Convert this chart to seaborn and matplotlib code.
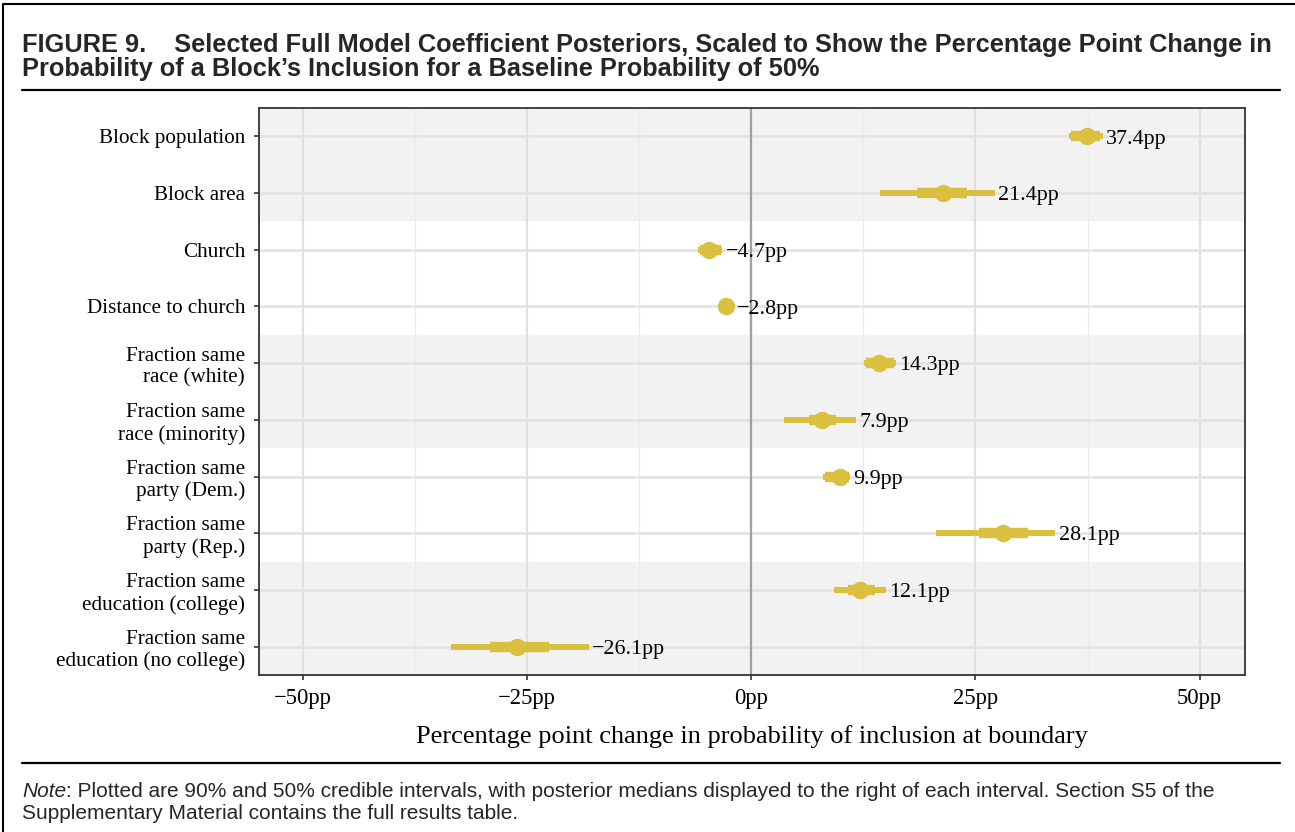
import matplotlib
matplotlib.use("Agg")
import matplotlib.pyplot as plt
import seaborn as sns
import pandas as pd
import numpy as np
from matplotlib.lines import Line2D

labels = [
    "Block population",
    "Block area",
    "Church",
    "Distance to church",
    "Fraction same\nrace (white)",
    "Fraction same\nrace (minority)",
    "Fraction same\nparty (Dem.)",
    "Fraction same\nparty (Rep.)",
    "Fraction same\neducation (college)",
    "Fraction same\neducation (no college)",
]
median = [37.4, 21.4, -4.7, -2.8, 14.3, 7.9, 9.9, 28.1, 12.1, -26.1]
lo90 = [35.4, 14.4, -5.9, -3.5, 12.6, 3.7, 8.0, 20.6, 9.2, -33.4]
hi90 = [39.2, 27.2, -3.2, -2.0, 16.1, 11.7, 11.0, 33.9, 15.0, -18.1]
lo50 = [35.7, 18.5, -5.7, -3.3, 12.8, 6.5, 8.2, 25.4, 10.8, -29.1]
hi50 = [38.9, 24.1, -3.4, -2.3, 15.9, 9.5, 10.9, 30.9, 13.8, -22.5]
xticks = [-50, -25, 0, 25, 50]
xticklabels = ["\u221250pp", "\u221225pp", "0pp", "25pp", "50pp"]

df = pd.DataFrame({"label": labels, "median": median, "lo90": lo90,
                   "hi90": hi90, "lo50": lo50, "hi50": hi50})

sns.set_theme(style="white")
plt.rcParams["font.family"] = ["Liberation Serif", "DejaVu Serif"]

GOLD = "#DBBF3E"
fig = plt.figure(figsize=(12.95, 8.32), dpi=100)
ax = fig.add_axes([259 / 1295, 1 - 675 / 832, (1245 - 259) / 1295, (675 - 108) / 832])

n = len(labels)
ypos = np.arange(n)

# background bands
for start in range(0, n, 4):
    ax.axhspan(start - 0.5, min(start + 1.5, n - 0.5), color="#F2F2F2", zorder=0, lw=0)

# grid lines
for xv in [-37.5, -12.5, 12.5, 37.5]:
    ax.axvline(xv, color="#EBEBEB", lw=1.0, zorder=1)
for xv in xticks:
    ax.axvline(xv, color="#E0E0E0", lw=1.6, zorder=1)
for yv in ypos:
    ax.axhline(yv, color="#E3E3E3", lw=2.0, zorder=1)
ax.axvline(0, color="#A0A0A0", lw=1.6, zorder=2)

# intervals
ax.hlines(ypos, df["lo90"], df["hi90"], color=GOLD, lw=4.3, zorder=3)
ax.hlines(ypos, df["lo50"], df["hi50"], color=GOLD, lw=7.5, zorder=4)

sns.pointplot(data=df, x="median", y="label", order=labels, orient="y",
              linestyle="none", color=GOLD, markersize=10.5, errorbar=None,
              ax=ax, zorder=5)
for c in ax.collections:
    c.set_zorder(5)
    c.set_edgecolor(GOLD)

for yv, h, m in zip(ypos, df["hi90"], df["median"]):
    txt = f"{m:.1f}pp".replace("-", "\u2212")
    ax.annotate(txt, xy=(h, yv), xytext=(2.4, -5.2), textcoords="offset points",
                ha="left", va="baseline", fontsize=15.8, color="black", zorder=6)

ax.set_xlim(-54.85, 55.05)
ax.set_ylim(n - 0.5, -0.5)
ax.set_xticks(xticks)
ax.set_xticklabels(xticklabels)
ax.set_yticks(ypos)
ax.set_yticklabels(labels, linespacing=1.2)
ax.tick_params(axis="both", which="both", length=3.6, width=1.2, color="#333333",
               labelcolor="black", bottom=True, left=True)
ax.tick_params(axis="x", labelsize=16.3, pad=6)
ax.tick_params(axis="y", labelsize=15.2, pad=6.4)
ax.set_ylabel("")
ax.set_xlabel("Percentage point change in probability of inclusion at boundary",
              fontsize=19, labelpad=11, color="black")
for s in ax.spines.values():
    s.set_visible(True)
    s.set_color("#333333")
    s.set_linewidth(1.3)
ax.grid(False)

# figure chrome
sans = ["Liberation Sans", "DejaVu Sans"]
fig.add_artist(Line2D([3 / 1295, 3 / 1295, 1], [0, 1 - 4 / 832, 1 - 4 / 832],
                      transform=fig.transFigure, color="black", lw=1.5))
fig.add_artist(Line2D([22 / 1295, 1280 / 1295], [1 - 90 / 832, 1 - 90 / 832],
                      transform=fig.transFigure, color="black", lw=1.6))
fig.add_artist(Line2D([22 / 1295, 1280 / 1295], [1 - 763 / 832, 1 - 763 / 832],
                      transform=fig.transFigure, color="black", lw=1.6))

fig.text(22 / 1295, 1 - 52 / 832,
         "FIGURE 9.    Selected Full Model Coefficient Posteriors, Scaled to Show the Percentage Point Change in",
         family=sans, fontweight="bold", fontsize=18.3, ha="left", va="baseline")
fig.text(22 / 1295, 1 - 76 / 832,
         "Probability of a Block\u2019s Inclusion for a Baseline Probability of 50%",
         family=sans, fontweight="bold", fontsize=18.3, ha="left", va="baseline")

renderer = fig.canvas.get_renderer()
t_note = fig.text(22 / 1295, 1 - 797 / 832, "Note", family=sans, style="italic",
                  fontsize=15, ha="left", va="baseline")
bb = t_note.get_window_extent(renderer)
fig.text(bb.x1 / fig.bbox.width, 1 - 797 / 832,
         ": Plotted are 90% and 50% credible intervals, with posterior medians displayed to the right of each interval. Section S5 of the",
         family=sans, fontsize=15, ha="left", va="baseline")
fig.text(22 / 1295, 1 - 819 / 832, "Supplementary Material contains the full results table.",
         family=sans, fontsize=15, ha="left", va="baseline")

fig.savefig("out.png", dpi=100)
